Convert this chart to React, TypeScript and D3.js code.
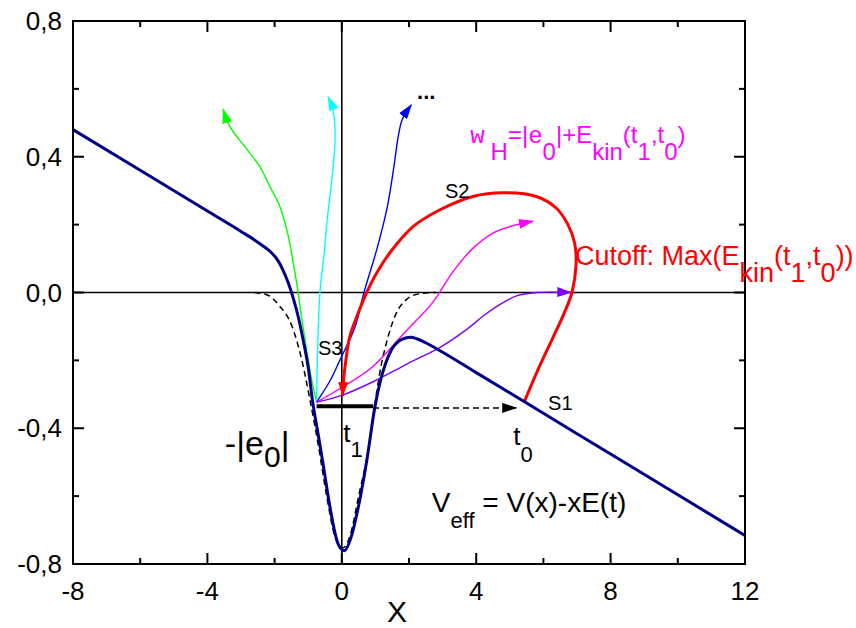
import React from 'react';
import * as d3 from 'd3';

const W = 856;
const H = 628;
const FONT = '"Liberation Sans", Arial, sans-serif';

// effective potential V_eff = V(x) - xE(t)
const vEff: [number, number][] = [
  [-8, 0.48], [-6, 0.36], [-4, 0.24], [-3, 0.18], [-2.6, 0.155], [-2.3, 0.134],
  [-2.1, 0.118], [-1.9, 0.094], [-1.75, 0.066], [-1.6, 0.03], [-1.45, -0.015],
  [-1.3, -0.07], [-1.15, -0.14], [-1.0, -0.22], [-0.87, -0.32], [-0.7, -0.42],
  [-0.55, -0.51], [-0.36, -0.628], [-0.11, -0.741], [0.07, -0.761], [0.29, -0.717],
  [0.48, -0.638], [0.75, -0.491], [0.98, -0.34], [1.15, -0.26], [1.3, -0.21],
  [1.5, -0.165], [1.7, -0.143], [1.9, -0.134], [2.05, -0.132], [2.25, -0.137],
  [2.5, -0.148], [2.9, -0.17], [4, -0.236], [6, -0.356], [8, -0.476], [10, -0.596],
  [12, -0.716],
];

// bare well V(x), dashed
const vBare: [number, number][] = [
  [-2.6, 0], [-2.2, -0.008], [-1.85, -0.04], [-1.5, -0.095], [-1.2, -0.195],
  [-0.95, -0.315], [-0.7, -0.45], [-0.45, -0.6], [-0.2, -0.72], [0.04, -0.752],
  [0.25, -0.715], [0.5, -0.6], [0.83, -0.44], [0.98, -0.334], [1.13, -0.236],
  [1.33, -0.148], [1.58, -0.07], [1.92, -0.021], [2.3, -0.004], [2.8, 0],
];

// S1 -> S2 -> S3 loop
const cutoffLoop: [number, number][] = [
  [5.44, -0.32], [5.85, -0.225], [6.25, -0.14], [6.6, -0.065], [6.85, 0.0],
  [6.97, 0.08], [6.93, 0.146], [6.73, 0.2], [6.38, 0.249], [5.79, 0.283],
  [4.79, 0.294], [3.9, 0.283], [2.91, 0.243], [2.12, 0.194], [1.5, 0.126],
  [1.05, 0.06], [0.74, 0.0], [0.45, -0.07], [0.24, -0.129], [0.12, -0.2],
  [0.05, -0.26], [0.02, -0.305],
];

const trajGreen: [number, number][] = [
  [-0.75, -0.323], [-0.9, -0.256], [-1.05, -0.168], [-1.2, -0.07], [-1.33, 0.02],
  [-1.45, 0.09], [-1.6, 0.17], [-1.85, 0.255], [-2.14, 0.312], [-2.44, 0.371],
  [-2.88, 0.429], [-3.33, 0.489], [-3.53, 0.54],
];
const trajCyan: [number, number][] = [
  [-0.75, -0.323], [-0.72, -0.17], [-0.65, 0.0], [-0.52, 0.12], [-0.45, 0.2],
  [-0.3, 0.33], [-0.2, 0.45], [-0.22, 0.51], [-0.3, 0.55], [-0.41, 0.577],
];
const trajBlue: [number, number][] = [
  [-0.75, -0.323], [-0.35, -0.26], [-0.06, -0.2], [0.4, -0.1], [0.66, 0.0],
  [1.05, 0.13], [1.35, 0.25], [1.55, 0.37], [1.68, 0.46], [1.8, 0.51], [2.07, 0.553],
];
const trajMagenta: [number, number][] = [
  [-0.75, -0.323], [0, -0.28], [0.9, -0.22], [1.9, -0.115], [2.7, -0.03],
  [3.3, 0.06], [3.9, 0.13], [4.5, 0.175], [5.1, 0.197], [5.69, 0.21],
];
const trajViolet: [number, number][] = [
  [-0.75, -0.323], [0, -0.303], [0.93, -0.263], [1.95, -0.21], [2.95, -0.16],
  [3.7, -0.11], [4.2, -0.07], [4.7, -0.036], [5.2, -0.01], [5.8, 0.0], [6.83, 0.0],
];

const xMajor = [-8, -4, 0, 4, 8, 12];
const xMinor = [-6, -2, 2, 6, 10];
const xLabels = ['-8', '-4', '0', '4', '8', '12'];
const yMajor = [-0.8, -0.4, 0, 0.4, 0.8];
const yMinor = [-0.6, -0.2, 0.2, 0.6];
const yLabels = ['-0,8', '-0,4', '0,0', '0,4', '0,8'];

// ionisation level and the tunnel exit / return points
const e0Level = -0.335;
const t1Range = [-0.75, 0.93];
const t0X = 5.19;

const arrows = [
  { id: 'green', color: '#00ff00' },
  { id: 'cyan', color: '#00ffff' },
  { id: 'blue', color: '#0000ff' },
  { id: 'magenta', color: '#ff00ff' },
  { id: 'violet', color: '#8000ff' },
  { id: 'red', color: '#ff0000' },
  { id: 'black', color: '#000000' },
];

export default function App() {
  const left = 73, right = 745, top = 21, bottom = 564;
  const x = d3.scaleLinear().domain([-8, 12]).range([left, right]);
  const y = d3.scaleLinear().domain([-0.8, 0.8]).range([bottom, top]);

  const potential = d3.line<[number, number]>()
    .x(d => x(d[0])).y(d => y(d[1]))
    .curve(d3.curveMonotoneX);
  const smooth = d3.line<[number, number]>()
    .x(d => x(d[0])).y(d => y(d[1]))
    .curve(d3.curveCatmullRom.alpha(0.5));

  const thin = [
    { data: trajGreen, id: 'green', color: '#00ff00' },
    { data: trajCyan, id: 'cyan', color: '#00ffff' },
    { data: trajBlue, id: 'blue', color: '#0000ff' },
    { data: trajMagenta, id: 'magenta', color: '#ff00ff' },
    { data: trajViolet, id: 'violet', color: '#8000ff' },
  ];

  return (
    <svg width={W} height={H} style={{ position: 'absolute', left: 0, top: 0, background: '#fff' }}
      fontFamily={FONT}>
      <defs>
        {arrows.map(a => (
          <marker key={a.id} id={`arr-${a.id}`} viewBox="0 0 15 10" refX={14} refY={5}
            markerWidth={15} markerHeight={10} markerUnits="userSpaceOnUse" orient="auto">
            <path d="M0,0 L15,5 L0,10 z" fill={a.color} />
          </marker>
        ))}
      </defs>

      {/* zero lines */}
      <line x1={left} x2={right} y1={y(0)} y2={y(0)} stroke="#000" strokeWidth={1.6} />
      <line x1={x(0)} x2={x(0)} y1={top} y2={bottom} stroke="#000" strokeWidth={1.6} />

      <path d={potential(vBare) ?? ''} fill="none" stroke="#000" strokeWidth={1.5} strokeDasharray="6,4" />

      {thin.map(t => (
        <path key={t.id} d={smooth(t.data) ?? ''} fill="none" stroke={t.color} strokeWidth={1.4}
          markerEnd={`url(#arr-${t.id})`} />
      ))}

      <path d={smooth(cutoffLoop) ?? ''} fill="none" stroke="#ff0000" strokeWidth={3}
        markerEnd="url(#arr-red)" />

      <path d={potential(vEff) ?? ''} fill="none" stroke="#000088" strokeWidth={3} strokeLinejoin="round" />

      {/* tunnel bar and travel arrow */}
      <line x1={x(t1Range[0])} x2={x(t1Range[1])} y1={y(e0Level)} y2={y(e0Level)} stroke="#000" strokeWidth={4} />
      <line x1={x(t1Range[1])} x2={x(t0X)} y1={y(e0Level - 0.005)} y2={y(e0Level - 0.005)}
        stroke="#000" strokeWidth={1.5} strokeDasharray="6,4" markerEnd="url(#arr-black)" />

      {/* frame */}
      <rect x={left} y={top} width={right - left} height={bottom - top} fill="none" stroke="#000" strokeWidth={2} />
      {xMajor.map(v => (
        <g key={`xm${v}`}>
          <line x1={x(v)} x2={x(v)} y1={bottom} y2={bottom - 11} stroke="#000" strokeWidth={2} />
          <line x1={x(v)} x2={x(v)} y1={top} y2={top + 11} stroke="#000" strokeWidth={2} />
        </g>
      ))}
      {xMinor.map(v => (
        <g key={`xn${v}`}>
          <line x1={x(v)} x2={x(v)} y1={bottom} y2={bottom - 6} stroke="#000" strokeWidth={2} />
          <line x1={x(v)} x2={x(v)} y1={top} y2={top + 6} stroke="#000" strokeWidth={2} />
        </g>
      ))}
      {yMajor.map(v => (
        <g key={`ym${v}`}>
          <line x1={left} x2={left + 11} y1={y(v)} y2={y(v)} stroke="#000" strokeWidth={2} />
          <line x1={right} x2={right - 11} y1={y(v)} y2={y(v)} stroke="#000" strokeWidth={2} />
        </g>
      ))}
      {yMinor.map(v => (
        <g key={`yn${v}`}>
          <line x1={left} x2={left + 6} y1={y(v)} y2={y(v)} stroke="#000" strokeWidth={2} />
          <line x1={right} x2={right - 6} y1={y(v)} y2={y(v)} stroke="#000" strokeWidth={2} />
        </g>
      ))}
      {xMajor.map((v, i) => (
        <text key={`xl${v}`} x={x(v)} y={600} fontSize={26} textAnchor="middle">{xLabels[i]}</text>
      ))}
      {yMajor.map((v, i) => (
        <text key={`yl${v}`} x={left - 11} y={y(v) + 9} fontSize={26} textAnchor="end">{yLabels[i]}</text>
      ))}
      <text x={397} y={622} fontSize={30} textAnchor="middle">X</text>

      {/* annotations */}
      <text x={x(-0.71)} y={y(-0.184)} fontSize={20}>S3</text>
      <text x={x(3.07)} y={y(0.278)} fontSize={20}>S2</text>
      <text x={x(6.14)} y={y(-0.346)} fontSize={20}>S1</text>
      <text x={x(2.24)} y={y(0.57)} fontSize={22} fontWeight="bold">...</text>

      <text x={x(3.82)} y={y(0.44)} fontSize={24} fill="#ff00ff">
        <tspan fontFamily='"Liberation Mono", monospace'>w</tspan>
        <tspan dx={6} dy={17}>H</tspan>
        <tspan dy={-17}>=|</tspan>
        <tspan fontFamily='"Liberation Mono", monospace'>e</tspan>
        <tspan dy={17}>0</tspan>
        <tspan dy={-17}>|+E</tspan>
        <tspan dy={17}>kin</tspan>
        <tspan dy={-17}>(t</tspan>
        <tspan dy={17}>1</tspan>
        <tspan dy={-17}>,t</tspan>
        <tspan dy={17}>0</tspan>
        <tspan dy={-17}>)</tspan>
      </text>

      <text x={x(6.94)} y={y(0.081)} fontSize={27} fill="#ff0000">
        <tspan>Cutoff: Max(E</tspan>
        <tspan dy={17}>kin</tspan>
        <tspan dy={-17}>(t</tspan>
        <tspan dy={17}>1</tspan>
        <tspan dy={-17}>,t</tspan>
        <tspan dy={17}>0</tspan>
        <tspan dy={-17}>))</tspan>
      </text>

      <text x={x(-3.48)} y={y(-0.479)} fontSize={34}>
        <tspan>-|e</tspan>
        <tspan dy={12} fontSize={30}>0</tspan>
        <tspan dy={-12}>|</tspan>
      </text>

      <text x={x(0.04)} y={y(-0.44)} fontSize={26}>
        <tspan>t</tspan>
        <tspan dy={15} fontSize={22}>1</tspan>
      </text>
      <text x={x(5.1)} y={y(-0.449)} fontSize={26}>
        <tspan>t</tspan>
        <tspan dy={17} fontSize={22}>0</tspan>
      </text>

      <text x={x(2.68)} y={y(-0.646)} fontSize={28}>
        <tspan>V</tspan>
        <tspan dy={16} fontSize={22}>eff</tspan>
        <tspan dy={-16}> = V(x)-xE(t)</tspan>
      </text>
    </svg>
  );
}
